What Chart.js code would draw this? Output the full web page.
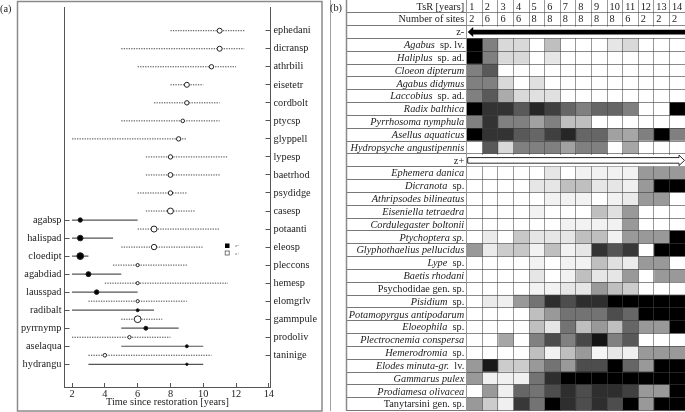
<!DOCTYPE html>
<html>
<head>
<meta charset="utf-8">
<title>Time since restoration</title>
<script src="https://cdn.jsdelivr.net/npm/chart.js@4"></script>
<style>
html, body { margin: 0; padding: 0; background: #fff; }
#wrap { position: relative; width: 685px; height: 412px; overflow: hidden; }
canvas { position: absolute; top: 0; }
#rangeChart { left: 0; }
#heatChart { left: 330px; }
</style>
</head>
<body>
<div id="wrap">
<canvas id="rangeChart" width="326" height="412"></canvas>
<canvas id="heatChart" width="355" height="412"></canvas>
</div>
<script>
// panel (a): indicator taxa, z+ group
var plusNames = ['ephedani', 'dicransp', 'athrbili', 'eisetetr', 'cordbolt', 'ptycsp', 'glyppell', 'lypesp', 'baetrhod', 'psydidge', 'casesp', 'potaanti', 'eleosp', 'pleccons', 'hemesp', 'elomgrlv', 'gammpule', 'prodoliv', 'taninige'];
var plusRows = [0, 1, 2, 3, 4, 5, 6, 7, 8, 9, 10, 11, 12, 13, 14, 15, 16, 17, 18];
var plusLow = [8, 5, 6, 8, 7, 5, 2, 6.5, 6.5, 6, 6.5, 6, 5, 4.5, 4, 3, 5, 2, 3];
var plusMid = [11, 11, 10.5, 9, 9, 8.75, 8.5, 8, 8, 8, 8, 7, 7, 6, 6, 6, 6, 5.5, 4];
var plusHigh = [12.5, 12.5, 12, 10, 11, 11, 9, 11.5, 11, 9, 9.5, 11, 10, 9, 11.5, 9, 7.5, 8, 10.5];
var plusSize = [2.5, 2.5, 2.2, 2.5, 2.2, 1.8, 2.2, 2.2, 2.4, 2.2, 3, 3, 2.7, 1.6, 1.6, 1.6, 3.4, 1.7, 1.8];

// panel (a): z- group
var minusNames = ['agabsp', 'halispad', 'cloedipt', 'agabdiad', 'lausspad', 'radibalt', 'pyrrnymp', 'aselaqua', 'hydrangu'];
var minusRows = [10.5, 11.5, 12.5, 13.5, 14.5, 15.5, 16.5, 17.5, 18.5];
var minusLow = [2, 2, 2, 2, 2, 2, 5, 5, 3];
var minusMid = [2.5, 2.5, 2.5, 3, 3.5, 6, 6.5, 9, 9];
var minusHigh = [6, 4.5, 3, 5, 6, 7, 8.5, 10, 10];
var minusSize = [2.2, 2.8, 3.4, 2.5, 2.3, 1.5, 2, 1.5, 1.2];

var timeTicks = [2, 4, 6, 8, 10, 12, 14];

// panel (b)
var years = ['1', '2', '3', '4', '5', '6', '7', '8', '9', '10', '11', '12', '13', '14'];
var siteCounts = ['2', '6', '6', '6', '8', '8', '8', '8', '8', '8', '6', '2', '2', '2'];

// [italic part, roman part]
var minusTaxa = [['Agabus', '  sp. lv.'], ['Haliplus', '  sp. ad.'], ['Cloeon dipterum', ''], ['Agabus didymus', ''], ['Laccobius', '  sp. ad.'], ['Radix balthica', ''], ['Pyrrhosoma nymphula', ''], ['Asellus aquaticus', ''], ['Hydropsyche angustipennis', '']];
var plusTaxa = [['Ephemera danica', ''], ['Dicranota', '  sp.'], ['Athripsodes bilineatus', ''], ['Eiseniella tetraedra', ''], ['Cordulegaster boltonii', ''], ['Ptychoptera sp.', ''], ['Glyphothaelius pellucidus', ''], ['Lype', '  sp.'], ['Baetis rhodani', ''], ['', 'Psychodidae gen. sp.'], ['Pisidium', '  sp.'], ['Potamopyrgus antipodarum', ''], ['Eloeophila', '  sp.'], ['Plectrocnemia conspersa', ''], ['Hemerodromia', '  sp.'], ['Elodes minuta-gr.', '  lv.'], ['Gammarus pulex', ''], ['Prodiamesa olivacea', ''], ['', 'Tanytarsini gen. sp.']];

// darkness of each cell, 0 white to 100 black, one row per taxon
var minusShades = [
  [100, 50, 15, 15, 0, 25, 0, 0, 0, 10, 15, 0, 0, 0],
  [100, 50, 15, 15, 0, 10, 0, 0, 0, 0, 0, 0, 0, 0],
  [50, 65, 0, 0, 0, 0, 0, 0, 0, 0, 0, 0, 0, 0],
  [50, 50, 15, 0, 12, 0, 0, 0, 0, 0, 0, 0, 0, 0],
  [50, 65, 33, 15, 12, 12, 0, 0, 0, 0, 0, 0, 0, 0],
  [100, 80, 80, 65, 85, 75, 60, 50, 60, 60, 50, 0, 0, 100],
  [50, 80, 50, 50, 37, 50, 25, 25, 0, 0, 0, 0, 0, 0],
  [100, 80, 80, 65, 60, 75, 85, 60, 60, 37, 35, 50, 100, 50],
  [0, 65, 15, 50, 50, 50, 37, 50, 50, 0, 35, 0, 0, 0]
];
var plusShades = [
  [0, 0, 0, 0, 0, 10, 0, 5, 5, 5, 5, 40, 40, 40],
  [0, 0, 0, 0, 10, 10, 25, 25, 10, 10, 6, 40, 100, 100],
  [0, 0, 0, 0, 0, 5, 5, 5, 0, 5, 8, 40, 40, 0],
  [0, 0, 0, 0, 5, 0, 0, 0, 25, 12, 40, 0, 0, 0],
  [0, 0, 0, 0, 0, 0, 5, 5, 5, 5, 40, 0, 0, 0],
  [0, 8, 0, 22, 10, 10, 10, 25, 25, 5, 40, 40, 40, 100],
  [40, 8, 20, 22, 5, 25, 5, 10, 80, 67, 78, 0, 100, 100],
  [0, 0, 0, 0, 5, 0, 5, 5, 25, 12, 8, 40, 40, 0],
  [0, 0, 0, 0, 10, 0, 5, 25, 10, 10, 40, 0, 40, 40],
  [0, 0, 0, 0, 5, 5, 10, 10, 40, 25, 20, 0, 0, 0],
  [0, 8, 6, 40, 55, 82, 70, 82, 82, 100, 100, 100, 100, 100],
  [0, 0, 0, 0, 25, 40, 55, 55, 55, 70, 60, 100, 100, 100],
  [0, 0, 0, 0, 25, 10, 55, 25, 40, 25, 60, 40, 40, 100],
  [0, 0, 35, 0, 50, 70, 50, 72, 92, 50, 65, 0, 0, 0],
  [0, 0, 0, 0, 25, 5, 25, 40, 4, 10, 6, 40, 40, 40],
  [40, 90, 20, 20, 40, 55, 40, 70, 70, 100, 60, 40, 100, 100],
  [40, 6, 6, 6, 55, 82, 100, 100, 100, 100, 100, 100, 100, 100],
  [0, 40, 6, 60, 55, 70, 82, 70, 82, 82, 75, 40, 40, 100],
  [40, 20, 6, 78, 55, 100, 82, 70, 82, 70, 100, 40, 100, 100]
];

var serif = '"Liberation Serif", serif';
var inkColor = '#222';
var lineColor = '#555';

function rangeSets(low, high, rows, dashed) {
  return low.map(function (lo, i) {
    return {
      type: 'scatter',
      showLine: true,
      data: [{ x: lo, y: rows[i] }, { x: high[i], y: rows[i] }],
      borderColor: dashed ? '#444' : lineColor,
      borderWidth: dashed ? 1 : 1.2,
      borderDash: dashed ? [1.3, 1.2] : [],
      pointRadius: 0,
      order: 5
    };
  });
}

function pointSet(mid, rows, size, fill) {
  return {
    type: 'scatter',
    data: mid.map(function (m, i) { return { x: m, y: rows[i] }; }),
    pointRadius: size,
    pointBackgroundColor: fill,
    pointBorderColor: '#222',
    pointBorderWidth: 1,
    order: 1
  };
}

var rangeDecor = {
  id: 'rangeDecor',
  beforeDraw: function (chart) {
    var ctx = chart.ctx;
    ctx.save();
    ctx.strokeStyle = '#8a8a8a';
    ctx.lineWidth = 1.5;
    ctx.strokeRect(17.5, 1.5, 304.5, 409.5);
    ctx.restore();
  },
  afterDraw: function (chart) {
    var ctx = chart.ctx;
    ctx.save();
    ctx.fillStyle = inkColor;
    ctx.font = '10.3px ' + serif;
    ctx.textBaseline = 'middle';
    ctx.fillText('(a)', 0, 9);
    // small legend
    ctx.fillStyle = '#000';
    ctx.fillRect(225, 243.5, 4.5, 4.5);
    ctx.fillStyle = '#fff';
    ctx.strokeStyle = '#555';
    ctx.lineWidth = 0.8;
    ctx.fillRect(225.2, 251, 4, 4);
    ctx.strokeRect(225.2, 251, 4, 4);
    ctx.fillStyle = '#666';
    ctx.font = '5px ' + serif;
    ctx.fillText('z-', 235, 246);
    ctx.fillText('z+', 235, 253.3);
    ctx.restore();
  }
};

// no auto margin for half tick labels, the plot area is fixed
function fixSize(prop, size) {
  return function (scale) {
    scale[prop] = size;
    scale.paddingTop = 0;
    scale.paddingBottom = 0;
    scale.paddingLeft = 0;
    scale.paddingRight = 0;
  };
}

new Chart(document.getElementById('rangeChart'), {
  type: 'scatter',
  data: {
    datasets: [
      pointSet(minusMid, minusRows, minusSize, '#000'),
      pointSet(plusMid, plusRows, plusSize, '#fff')
    ].concat(rangeSets(minusLow, minusHigh, minusRows, false))
     .concat(rangeSets(plusLow, plusHigh, plusRows, true))
  },
  options: {
    responsive: false,
    animation: false,
    layout: { padding: { top: 7.5, right: 0, bottom: 4, left: 0 } },
    plugins: { legend: { display: false }, tooltip: { enabled: false } },
    scales: {
      x: {
        type: 'linear',
        min: 1.54,
        max: 14.1,
        afterBuildTicks: function (scale) {
          scale.ticks = timeTicks.map(function (v) { return { value: v }; });
        },
        afterFit: fixSize('height', 21),
        border: { display: true, color: lineColor, width: 1 },
        grid: { drawOnChartArea: false, tickLength: -4, tickColor: lineColor },
        ticks: { padding: 5, maxRotation: 0, autoSkip: false, color: inkColor, font: { family: serif, size: 10.3 } },
        title: { display: true, text: 'Time since restoration [years]', color: inkColor, padding: 0, font: { family: serif, size: 10.3 } }
      },
      y: {
        type: 'linear',
        position: 'left',
        reverse: true,
        min: -1.287,
        max: 19.76,
        afterBuildTicks: function (scale) {
          scale.ticks = minusRows.map(function (v) { return { value: v }; });
        },
        afterFit: fixSize('width', 64.5),
        border: { display: true, color: lineColor, width: 1 },
        grid: { drawOnChartArea: false, tickLength: -5, tickColor: lineColor },
        ticks: {
          padding: 8,
          autoSkip: false,
          color: inkColor,
          font: { family: serif, size: 10.3 },
          callback: function (v) { return minusNames[minusRows.indexOf(v)]; }
        }
      },
      yRight: {
        type: 'linear',
        position: 'right',
        reverse: true,
        min: -1.287,
        max: 19.76,
        afterBuildTicks: function (scale) {
          scale.ticks = plusRows.map(function (v) { return { value: v }; });
        },
        afterFit: fixSize('width', 55.5),
        border: { display: true, color: lineColor, width: 1 },
        grid: { drawOnChartArea: false, tickLength: -5, tickColor: lineColor },
        ticks: {
          padding: 8,
          autoSkip: false,
          color: inkColor,
          font: { family: serif, size: 10.3 },
          callback: function (v) { return plusNames[plusRows.indexOf(v)]; }
        }
      }
    }
  },
  plugins: [rangeDecor]
});

// panel (b): all rows top to bottom, headers and arrow rows included
var blankRow = years.map(function () { return 0; });
var heatRows = [['', 'TsR [years]'], ['', 'Number of sites'], ['', 'z-']]
  .concat(minusTaxa)
  .concat([['', 'z+']])
  .concat(plusTaxa);
var heatShades = [blankRow, blankRow, blankRow]
  .concat(minusShades)
  .concat([blankRow])
  .concat(plusShades);

function shadeColor(v) {
  var g = Math.round(255 * (1 - v / 100));
  return 'rgb(' + g + ',' + g + ',' + g + ')';
}

var heatSets = years.map(function (year, col) {
  return {
    label: year,
    data: heatRows.map(function () { return 1; }),
    backgroundColor: heatShades.map(function (row) { return shadeColor(row[col]); }),
    borderWidth: 0,
    barPercentage: 1,
    categoryPercentage: 1
  };
});

var heatDecor = {
  id: 'heatDecor',
  afterDraw: function (chart) {
    var ctx = chart.ctx;
    var xs = chart.scales.x;
    var ys = chart.scales.y;
    var rowH = ys.getPixelForValue(1) - ys.getPixelForValue(0);
    ctx.save();

    // frame on the label column
    ctx.strokeStyle = '#8a8a8a';
    ctx.lineWidth = 1.5;
    ctx.beginPath();
    ctx.moveTo(16.5, 0);
    ctx.lineTo(16.5, ys.getPixelForValue(heatRows.length - 1) + rowH / 2 + 0.5);
    ctx.stroke();

    // arrow rows have no cell lines
    ctx.fillStyle = '#fff';
    [2, 12].forEach(function (r) {
      ctx.fillRect(xs.left + 1, ys.getPixelForValue(r) - rowH / 2 + 1, xs.right - xs.left, rowH - 1.5);
    });

    // z- arrow
    var yMinus = ys.getPixelForValue(2);
    ctx.fillStyle = '#000';
    ctx.beginPath();
    ctx.moveTo(xs.left + 1, yMinus);
    ctx.lineTo(xs.left + 6.5, yMinus - 5);
    ctx.lineTo(xs.left + 6.5, yMinus - 2.3);
    ctx.lineTo(xs.right, yMinus - 2.3);
    ctx.lineTo(xs.right, yMinus + 2.3);
    ctx.lineTo(xs.left + 6.5, yMinus + 2.3);
    ctx.lineTo(xs.left + 6.5, yMinus + 5);
    ctx.closePath();
    ctx.fill();

    // z+ arrow
    var yPlus = ys.getPixelForValue(12);
    ctx.strokeStyle = '#111';
    ctx.lineWidth = 0.9;
    ctx.fillStyle = '#fff';
    ctx.beginPath();
    ctx.moveTo(xs.right - 0.5, yPlus);
    ctx.lineTo(xs.right - 6, yPlus - 5.2);
    ctx.lineTo(xs.right - 6, yPlus - 2.8);
    ctx.lineTo(xs.left + 1, yPlus - 2.8);
    ctx.lineTo(xs.left + 1, yPlus + 2.8);
    ctx.lineTo(xs.right - 6, yPlus + 2.8);
    ctx.lineTo(xs.right - 6, yPlus + 5.2);
    ctx.closePath();
    ctx.fill();
    ctx.stroke();

    // row labels, italic and roman parts
    var italicFont = 'italic 10.3px ' + serif;
    var romanFont = '10.3px ' + serif;
    ctx.fillStyle = inkColor;
    ctx.textBaseline = 'middle';
    ctx.textAlign = 'left';
    heatRows.forEach(function (row, r) {
      var y = ys.getPixelForValue(r) + 0.5;
      ctx.font = romanFont;
      var romanW = ctx.measureText(row[1]).width;
      ctx.font = italicFont;
      var italicW = ctx.measureText(row[0]).width;
      var x = xs.left - 2.5 - romanW - italicW;
      ctx.fillText(row[0], x, y);
      ctx.font = romanFont;
      ctx.fillText(row[1], x + italicW, y);
    });

    // header numbers
    years.forEach(function (year, c) {
      var x = xs.getPixelForValue(c) + 2.5;
      ctx.fillText(year, x, ys.getPixelForValue(0) + 0.5);
      ctx.fillText(siteCounts[c], x, ys.getPixelForValue(1) + 0.5);
    });

    ctx.font = romanFont;
    ctx.fillText('(b)', 0, 8.5);
    ctx.restore();
  }
};

new Chart(document.getElementById('heatChart'), {
  type: 'bar',
  data: {
    labels: heatRows.map(function (row) { return row[0] + row[1]; }),
    datasets: heatSets
  },
  options: {
    indexAxis: 'y',
    responsive: false,
    animation: false,
    layout: { padding: { top: 0, right: 0, bottom: 1.4, left: 0 } },
    plugins: { legend: { display: false }, tooltip: { enabled: false } },
    scales: {
      x: {
        type: 'linear',
        stacked: true,
        min: 0,
        max: 14,
        afterBuildTicks: function (scale) {
          scale.ticks = years.map(function (y, i) { return { value: i }; }).concat([{ value: 14 }]);
        },
        afterFit: function (scale) { scale.height = 0; },
        border: { display: false },
        grid: { z: 1, color: 'rgba(70,70,70,0.55)', lineWidth: 1, drawTicks: false },
        ticks: { display: false }
      },
      y: {
        type: 'category',
        stacked: true,
        afterFit: function (scale) { scale.width = 136.7; },
        border: { display: true, color: '#444', width: 1 },
        grid: { z: 1, offset: true, color: 'rgba(60,60,60,0.6)', lineWidth: 1, tickLength: 120, tickColor: '#777' },
        ticks: { display: false }
      }
    }
  },
  plugins: [heatDecor]
});
</script>
</body>
</html>
